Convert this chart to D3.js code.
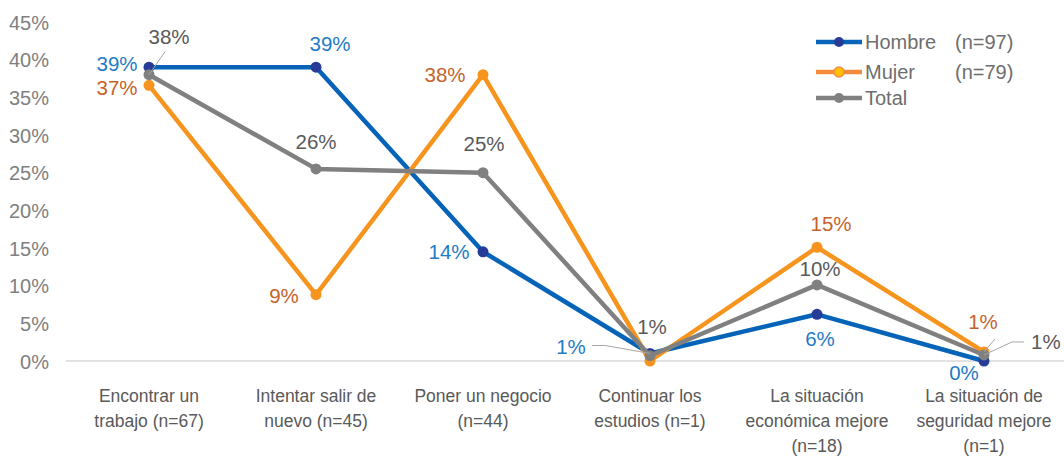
<!DOCTYPE html>
<html><head><meta charset="utf-8">
<script src="https://cdn.jsdelivr.net/npm/d3@7"></script>
<style>body{margin:0;background:#fff;} svg{display:block;}</style>
</head><body><svg id="c" width="1064" height="460"></svg>
<script>
const categories = [["Encontrar un","trabajo (n=67)"],["Intentar salir de","nuevo (n=45)"],["Poner un negocio","(n=44)"],["Continuar los","estudios (n=1)"],["La situación","económica mejore","(n=18)"],["La situación de","seguridad mejore","(n=1)"]];
const hombre = [39, 39, 14.5, 1, 6.2, 0];
const mujer = [36.6, 8.8, 38, 0, 15.1, 1.2];
const total = [38, 25.5, 25, 0.7, 10.1, 0.8];
const hombreLabels = ["39%","39%","14%","1%","6%","0%"];
const mujerLabels = ["37%","9%","38%","","15%","1%"];
const totalLabels = ["38%","26%","25%","1%","10%","1%"];
const yTicks = [0,5,10,15,20,25,30,35,40,45];
const legendNames = ["Hombre","Mujer","Total"];
const legendN = ["(n=97)","(n=79)",""];

const svg = d3.select("#c");
const font = "Liberation Sans, Arial, sans-serif";
const x = d3.scaleBand().domain(d3.range(categories.length)).range([65.5, 1067.5]);
const cx = i => x(i) + x.bandwidth()/2;
const y = d3.scaleLinear().domain([0,45]).range([361, 22]);

// baseline
svg.append("line").attr("x1",66).attr("x2",1064).attr("y1",y(0)).attr("y2",y(0)).attr("stroke","#d9d9d9").attr("stroke-width",1.3);

// y axis
const ya = svg.append("g").attr("transform","translate(52,0)").call(d3.axisLeft(y).tickValues(yTicks).tickSize(0).tickFormat(d=>d+"%"));
ya.select(".domain").remove();
ya.selectAll("text").attr("font-family",font).attr("font-size",20).attr("fill","#808080").attr("dx",0).attr("dy","0.35em");

// x labels
const xg = svg.append("g");
categories.forEach((lines,i)=>{
  const t = xg.append("text").attr("x",cx(i)).attr("y",402).attr("text-anchor","middle")
    .attr("font-family",font).attr("font-size",17.5).attr("fill","#595959");
  lines.forEach((l,j)=>t.append("tspan").attr("x",cx(i)).attr("dy", j===0?0:25).text(l));
});

const series = [
  {name:"Total", vals: total, line:"#808080", marker:"#808080", lab:"#595959"},
  {name:"Mujer", vals: mujer, line:"#F7941D", marker:"#F7941D", lab:"#C5622A"},
  {name:"Hombre", vals: hombre, line:"#0563B8", marker:"#263C97", lab:"#1F7BC8"}
];
const order = [series[2], series[1], series[0]];
const line = d3.line().x((d,i)=>cx(i)).y(d=>y(d));
order.forEach(s=>{
  svg.append("path").datum(s.vals).attr("d",line).attr("fill","none").attr("stroke",s.line).attr("stroke-width",4.5).attr("stroke-linejoin","round");
  svg.append("g").selectAll("circle").data(s.vals).join("circle")
    .attr("cx",(d,i)=>cx(i)).attr("cy",d=>y(d)).attr("r",5.5).attr("fill",s.marker);
});

function lab(text, i, v, dx, dy, color, anchor){
  svg.append("text").attr("x",cx(i)+dx).attr("y",y(v)+dy).attr("text-anchor",anchor||"middle")
    .attr("font-family",font).attr("font-size",20.5).attr("fill",color).text(text);
}
function leader(i, v, pts){
  svg.append("polyline").attr("points",[[cx(i),y(v)],...pts.map(p=>[cx(i)+p[0],y(v)+p[1]])].map(p=>p.join(",")).join(" "))
    .attr("fill","none").attr("stroke","#a6a6a6").attr("stroke-width",1);
}
const hC = "#1F7BC8", mC = "#C5622A", tC = "#595959";
leader(0, total[0], [[16,-23]]);
leader(3, hombre[3], [[-45,-8],[-58,-8]]);
leader(5, mujer[5], [[11,-13]]);
leader(5, total[5], [[28,-13],[40,-13]]);

// category 1
lab(hombreLabels[0],0,hombre[0],-32,4,hC);
lab(mujerLabels[0],0,mujer[0],-32,10,mC);
lab(totalLabels[0],0,total[0],20,-31,tC);
// category 2
lab(hombreLabels[1],1,hombre[1],14,-16,hC);
lab(mujerLabels[1],1,mujer[1],-32,8,mC);
lab(totalLabels[1],1,total[1],0,-20,tC);
// category 3
lab(hombreLabels[2],2,hombre[2],-34,7,hC);
lab(mujerLabels[2],2,mujer[2],-38,7,mC);
lab(totalLabels[2],2,total[2],1,-22,tC);
// category 4
lab(hombreLabels[3],3,hombre[3],-79,1,hC);
lab(totalLabels[3],3,total[3],2,-22,tC);
// category 5
lab(mujerLabels[4],4,mujer[4],14,-16,mC);
lab(totalLabels[4],4,total[4],3,-9,tC);
lab(hombreLabels[4],4,hombre[4],3,32,hC);
// category 6
lab(hombreLabels[5],5,hombre[5],-20,19,hC);
lab(mujerLabels[5],5,mujer[5],-1,-23,mC);
lab(totalLabels[5],5,total[5],47,-6,tC,"start");

// legend
const lg = svg.append("g");
order.forEach((s,k)=>{
  const yy = [42,72,98][k];
  lg.append("line").attr("x1",816).attr("x2",862).attr("y1",yy).attr("y2",yy).attr("stroke",s.name==="Mujer"?"#F58A3C":s.line).attr("stroke-width",4.5);
  lg.append("circle").attr("cx",839).attr("cy",yy).attr("r",5).attr("fill",s.name==="Mujer"?"#FFC000":s.marker)
    .attr("stroke",s.name==="Mujer"?"#F58A3C":"none").attr("stroke-width",1.5);
  lg.append("text").attr("x",865).attr("y",yy+7).attr("font-family",font).attr("font-size",20).attr("fill","#6e6e6e").text(legendNames[k]);
  lg.append("text").attr("x",955).attr("y",yy+7).attr("font-family",font).attr("font-size",20).attr("fill","#6e6e6e").text(legendN[k]);
});
</script></body></html>
